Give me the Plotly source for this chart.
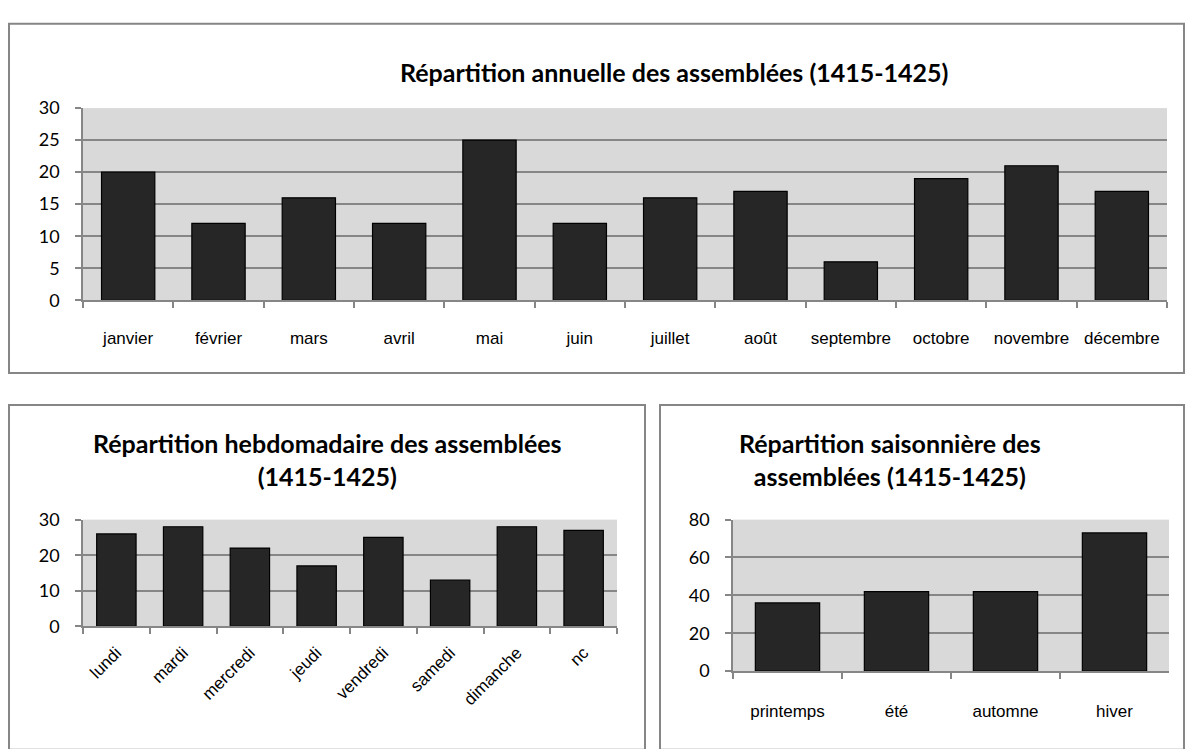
"""Répartition des assemblées (1415-1425) : mois, jours, saisons."""
import plotly.graph_objects as go

W, H = 1185, 749

# données
mois = ["janvier", "février", "mars", "avril", "mai", "juin", "juillet",
        "août", "septembre", "octobre", "novembre", "décembre"]
par_mois = [20, 12, 16, 12, 25, 12, 16, 17, 6, 19, 21, 17]

jours = ["lundi", "mardi", "mercredi", "jeudi", "vendredi", "samedi", "dimanche", "nc"]
par_jour = [26, 28, 22, 17, 25, 13, 28, 27]

saisons = ["printemps", "été", "automne", "hiver"]
par_saison = [36, 42, 42, 73]

GREY = "#868686"
BAR = "#262626"
TITLE_FONT = "Lato, Carlito, Calibri, sans-serif"
LABEL_FONT = "Liberation Sans, Arial, sans-serif"


def px_x(x):
    return x / W


def px_y(y):
    return 1 - y / H


def bar(x, y, ax):
    return go.Bar(
        x=x, y=y, xaxis="x" + ax, yaxis="y" + ax, showlegend=False,
        marker={"color": BAR, "line": {"color": "#000000", "width": 1.2}},
        hoverinfo="x+y",
    )


fig = go.Figure()
fig.add_trace(bar(mois, par_mois, ""))
fig.add_trace(bar(jours, par_jour, "2"))
fig.add_trace(bar(saisons, par_saison, "3"))


def xaxis(domain, anchor, angle=0, standoff=22):
    return dict(
        domain=domain, anchor=anchor, type="category", tickson="boundaries",
        showline=True, linecolor=GREY, linewidth=1.5, ticks="outside", ticklen=6,
        tickcolor=GREY, tickwidth=1.5, showgrid=False, tickangle=angle,
        ticklabelstandoff=standoff, fixedrange=True,
        tickfont={"family": LABEL_FONT, "size": 17, "color": "#000000"},
    )


def yaxis(domain, anchor, rng, dtick):
    return dict(
        domain=domain, anchor=anchor, range=rng, dtick=dtick, showline=True,
        linecolor=GREY, linewidth=1.5, ticks="outside", ticklen=6, tickcolor=GREY,
        tickwidth=1.5, showgrid=True, gridcolor=GREY, gridwidth=1.5, zeroline=False,
        ticklabelstandoff=12, fixedrange=True,
        tickfont={"family": TITLE_FONT, "size": 18, "color": "#000000"},
    )


# position des zones de tracé (pixels de la capture)
top_x = [px_x(83), px_x(1167)]
top_y = [px_y(297), px_y(99)]
bl_x = [px_x(83), px_x(617)]
bl_y = [px_y(633), px_y(523)]
br_x = [px_x(733), px_x(1169)]
br_y = [px_y(679), px_y(523)]

boxes = [
    (9, 12, 1184, 372),
    (9, 405, 645, 760),
    (660, 405, 1184, 760),
]
shapes = []
for x0, y0, x1, y1 in boxes:
    shapes.append(dict(
        type="rect", xref="paper", yref="paper", layer="below",
        x0=px_x(x0), x1=px_x(x1), y0=px_y(y1), y1=px_y(y0),
        line={"color": GREY, "width": 2}, fillcolor="rgba(0,0,0,0)",
    ))

titles = [
    (674, 62, "Répartition annuelle des assemblées (1415-1425)"),
    (327, 461, "Répartition hebdomadaire des assemblées<br>(1415-1425)"),
    (890, 461, "Répartition saisonnière des<br>assemblées (1415-1425)"),
]
annotations = [
    dict(x=px_x(x), y=px_y(y), xref="paper", yref="paper", text=f"<b>{t}</b>",
         showarrow=False, xanchor="center", yanchor="middle",
         font={"family": TITLE_FONT, "size": 25, "color": "#000000"})
    for x, y, t in titles
]

fig.update_layout(
    width=W, height=H, margin={"l": 0, "r": 0, "t": 0, "b": 0},
    paper_bgcolor="#ffffff", plot_bgcolor="#D9D9D9", bargap=0.41,
    xaxis=xaxis(top_x, "y", standoff=22),
    yaxis=yaxis(top_y, "x", [0, 30], 5),
    xaxis2=xaxis(bl_x, "y2", angle=-45, standoff=8),
    yaxis2=yaxis(bl_y, "x2", [0, 30], 10),
    xaxis3=xaxis(br_x, "y3", standoff=24),
    yaxis3=yaxis(br_y, "x3", [0, 80], 20),
    shapes=shapes, annotations=annotations,
)

fig.write_html(
    "out.html",
    config={"displayModeBar": False},
    post_script="document.body.style.margin = '0px';",
)
